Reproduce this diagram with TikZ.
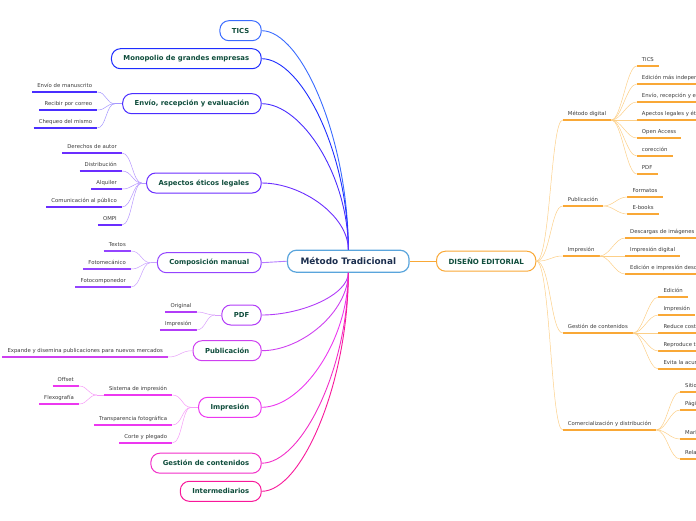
\documentclass[tikz,border=0pt]{standalone}
\usepackage{fontspec}
\setmainfont{DejaVu Sans}
\usetikzlibrary{calc}
\usepackage{xcolor}

\definecolor{ctics}{HTML}{3B6CFF}
\definecolor{cmono}{HTML}{1E2DFF}
\definecolor{cenv}{HTML}{4A2EFF}
\definecolor{casp}{HTML}{6B2EFF}
\definecolor{ccomp}{HTML}{9444FF}
\definecolor{cpdf}{HTML}{B23CF8}
\definecolor{cpub}{HTML}{CE40F0}
\definecolor{cimp}{HTML}{EC38F0}
\definecolor{cgest}{HTML}{F22EC8}
\definecolor{cint}{HTML}{F8189A}
\definecolor{cmain}{HTML}{5AA5DC}
\definecolor{orng}{HTML}{F9A836}
\definecolor{orngl}{HTML}{FCCF88}
\definecolor{topictxt}{HTML}{0F4D3C}
\definecolor{maintxt}{HTML}{1B2E4E}
\definecolor{leaftxt}{HTML}{3A3A3A}

\begin{document}
\begin{tikzpicture}[x=1pt,y=-1pt,
  topic/.style={draw,fill=white,rounded corners=9pt,line width=1pt,minimum height=20pt,inner xsep=12pt,
    font=\bfseries\fontsize{6.85}{8}\selectfont,text=topictxt},
  leaf/.style={font=\fontsize{5.35}{6}\selectfont,text=leaftxt,inner xsep=5pt,inner ysep=2.5pt,text height=4pt,text depth=1.5pt},
  uline/.style={line width=1.5pt},
  twig/.style={line width=0.5pt},
  branch/.style={line width=0.9pt}]

\useasboundingbox (0,0) rectangle (696,520);
\clip (0,0) rectangle (696,520);

\newcommand{\leafl}[5]{
  \node[leaf,anchor=south east] (#1) at (#2,#3) {#5};
  \draw[uline,#4] (#1.south west) -- (#1.south east);
}
\newcommand{\leafr}[4]{
  \node[leaf,anchor=south west] (#1) at (#2,#3) {#4};
  \draw[uline,orng,line width=1.3pt] (#1.south west) -- (#1.south east);
}

\node[topic,draw=cmain,line width=1.2pt,minimum height=22pt,inner xsep=13pt,
  font=\bfseries\fontsize{8.9}{10}\selectfont,text=maintxt] (mt) at (348.3,261.2) {Método Tradicional};
\node[topic,draw=orng,anchor=west,font=\bfseries\fontsize{7.1}{8}\selectfont] (de) at (436,261.2) {DISEÑO EDITORIAL};

\node[topic,draw=ctics,anchor=east] (tics) at (261.7,30.7) {TICS};
\node[topic,draw=cmono,anchor=east] (mono) at (261.7,58.7) {Monopolio de grandes empresas};
\node[topic,draw=cenv,anchor=east] (env) at (261.7,103.7) {Envío, recepción y evaluación};
\node[topic,draw=casp,anchor=east] (asp) at (261.7,183) {Aspectos éticos legales};
\node[topic,draw=ccomp,anchor=east] (comp) at (261.7,262.7) {Composición manual};
\node[topic,draw=cpdf,anchor=east] (pdf) at (261.7,315) {PDF};
\node[topic,draw=cpub,anchor=east] (pub) at (261.7,350.7) {Publicación};
\node[topic,draw=cimp,anchor=east] (imp) at (261.7,407.3) {Impresión};
\node[topic,draw=cgest,anchor=east] (gest) at (261.7,463.2) {Gestión de contenidos};
\node[topic,draw=cint,anchor=east] (inter) at (261.7,491.3) {Intermediarios};

\draw[branch,ctics] (tics.east) .. controls +(40,0) and +(0,-110) .. (mt.north);
\draw[branch,cmono] (mono.east) .. controls +(40,0) and +(0,-96) .. (mt.north);
\draw[branch,cenv] (env.east) .. controls +(40,0) and +(0,-74) .. (mt.north);
\draw[branch,casp] (asp.east) .. controls +(40,0) and +(0,-34) .. (mt.north);
\draw[branch,ccomp!70] (comp.east) -- (mt.west);
\draw[branch,cpdf] (pdf.east) .. controls +(40,0) and +(0,22) .. (mt.south);
\draw[branch,cpub] (pub.east) .. controls +(40,0) and +(0,39) .. (mt.south);
\draw[branch,cimp] (imp.east) .. controls +(40,0) and +(0,68) .. (mt.south);
\draw[branch,cgest] (gest.east) .. controls +(40,0) and +(0,96) .. (mt.south);
\draw[branch,cint] (inter.east) .. controls +(40,0) and +(0,110) .. (mt.south);
\draw[branch,orng] (mt.east) -- (de.west);

% Envio
\leafl{envm}{97.3}{92}{cenv}{Envío de manuscrito}
\leafl{envr}{97.3}{110}{cenv}{Recibir por correo}
\leafl{envc}{97.3}{128}{cenv}{Chequeo del mismo}
\coordinate (envj) at (115,103.7);
\draw[twig,cenv!50] (envj) -- (env.west);
\draw[twig,cenv!50] (envm.south east) .. controls +(9,0) and +(-9,0) .. (envj);
\draw[twig,cenv!50] (envr.south east) .. controls +(9,0) and +(-9,0) .. (envj);
\draw[twig,cenv!50] (envc.south east) .. controls +(9,0) and +(-9,0) .. (envj);

% Aspectos
\leafl{aspd}{122}{153}{casp}{Derechos de autor}
\leafl{aspb}{122}{171}{casp}{Distribución}
\leafl{aspa}{122}{189}{casp}{Alquiler}
\leafl{aspc}{122}{207}{casp}{Comunicación al público}
\leafl{aspo}{122}{225}{casp}{OMPI}
\coordinate (aspj) at (141.7,183);
\draw[twig,casp!50] (aspj) -- (asp.west);
\draw[twig,casp!50] (aspd.south east) .. controls +(10,0) and +(-9,0) .. (aspj);
\draw[twig,casp!50] (aspb.south east) .. controls +(10,0) and +(-9,0) .. (aspj);
\draw[twig,casp!50] (aspa.south east) .. controls +(10,0) and +(-9,0) .. (aspj);
\draw[twig,casp!50] (aspc.south east) .. controls +(10,0) and +(-9,0) .. (aspj);
\draw[twig,casp!50] (aspo.south east) .. controls +(10,0) and +(-9,0) .. (aspj);

% Composicion
\leafl{compt}{131}{251}{ccomp}{Textos}
\leafl{compf}{131}{269}{ccomp}{Fotomecánico}
\leafl{compc}{131}{287}{ccomp}{Fotocomponedor}
\coordinate (compj) at (150.5,262.7);
\draw[twig,ccomp!50] (compj) -- (comp.west);
\draw[twig,ccomp!50] (compt.south east) .. controls +(10,0) and +(-9,0) .. (compj);
\draw[twig,ccomp!50] (compf.south east) .. controls +(10,0) and +(-9,0) .. (compj);
\draw[twig,ccomp!50] (compc.south east) .. controls +(10,0) and +(-9,0) .. (compj);

% PDF
\leafl{pdfo}{196.7}{312}{cpdf}{Original}
\leafl{pdfi}{196.7}{330}{cpdf}{Impresión}
\coordinate (pdfj) at (215,315);
\draw[twig,cpdf!50] (pdfj) -- (pdf.west);
\draw[twig,cpdf!50] (pdfo.south east) .. controls +(9,0) and +(-9,0) .. (pdfj);
\draw[twig,cpdf!50] (pdfi.south east) .. controls +(9,0) and +(-9,0) .. (pdfj);

% Publicacion
\leafl{pube}{168}{357}{cpub}{Expande y disemina publicaciones para nuevos mercados}
\draw[twig,cpub!50] (pube.south east) .. controls +(12,0) and +(-12,0) .. (pub.west);

% Impresion
\leafl{imps}{172.3}{395}{cimp}{Sistema de impresión}
\leafl{impt}{172.3}{425}{cimp}{Transparencia fotográfica}
\leafl{impc}{172.3}{443}{cimp}{Corte y plegado}
\leafl{impo}{79}{386}{cimp}{Offset}
\leafl{impf}{79}{404}{cimp}{Flexografía}
\coordinate (impj) at (191,407.3);
\coordinate (impsj) at (97,395);
\draw[twig,cimp!50] (impj) -- (imp.west);
\draw[twig,cimp!50] (imps.south east) .. controls +(10,0) and +(-9,0) .. (impj);
\draw[twig,cimp!50] (impt.south east) .. controls +(10,0) and +(-9,0) .. (impj);
\draw[twig,cimp!50] (impc.south east) .. controls +(10,0) and +(-9,0) .. (impj);
\draw[twig,cimp!50] (impsj) -- (imps.south west);
\draw[twig,cimp!50] (impo.south east) .. controls +(9,0) and +(-9,0) .. (impsj);
\draw[twig,cimp!50] (impf.south east) .. controls +(9,0) and +(-9,0) .. (impsj);

% DISENO EDITORIAL
\node[leaf,anchor=south west] (md) at (562.7,120) {Método digital};
\node[leaf,anchor=south west] (pb) at (562.7,206) {Publicación};
\node[leaf,anchor=south west] (ip) at (562.7,256) {Impresión};
\node[leaf,anchor=south west] (gc) at (562.7,333) {Gestión de contenidos};
\node[leaf,anchor=south west] (cd) at (562.7,430) {Comercialización y distribución};
\draw[uline,orng,line width=1.7pt] (md.south west) -- (md.south east);
\draw[uline,orng,line width=1.7pt] (pb.south west) -- (pb.south east);
\draw[uline,orng,line width=1.7pt] (ip.south west) -- (ip.south east);
\draw[uline,orng,line width=1.7pt] (gc.south west) -- (gc.south east);
\draw[uline,orng,line width=1.7pt] (cd.south west) -- (cd.south east);
\draw[twig,orngl] (de.east) .. controls +(14,0) and +(-12,0) .. (md.south west);
\draw[twig,orngl] (de.east) .. controls +(14,0) and +(-12,0) .. (pb.south west);
\draw[twig,orngl] (de.east) .. controls +(14,0) and +(-12,0) .. (ip.south west);
\draw[twig,orngl] (de.east) .. controls +(14,0) and +(-12,0) .. (gc.south west);
\draw[twig,orngl] (de.east) .. controls +(14,0) and +(-12,0) .. (cd.south west);

\leafr{mda}{636.7}{66}{TICS}
\leafr{mdb}{636.7}{84}{Edición más independiente}
\leafr{mdc}{636.7}{102}{Envío, recepción y evaluación}
\leafr{mdd}{636.7}{120}{Apectos legales y éticos}
\leafr{mde}{636.7}{138}{Open Access}
\leafr{mdf}{636.7}{156}{corección}
\leafr{mdg}{636.7}{174}{PDF}
\draw[twig,orngl] (md.south east) .. controls +(10,0) and +(-10,0) .. (mda.south west);
\draw[twig,orngl] (md.south east) .. controls +(10,0) and +(-10,0) .. (mdb.south west);
\draw[twig,orngl] (md.south east) .. controls +(10,0) and +(-10,0) .. (mdc.south west);
\draw[twig,orngl] (md.south east) -- (mdd.south west);
\draw[twig,orngl] (md.south east) .. controls +(10,0) and +(-10,0) .. (mde.south west);
\draw[twig,orngl] (md.south east) .. controls +(10,0) and +(-10,0) .. (mdf.south west);
\draw[twig,orngl] (md.south east) .. controls +(10,0) and +(-10,0) .. (mdg.south west);

\leafr{pba}{627.3}{197}{Formatos}
\leafr{pbb}{627.3}{214}{E-books}
\draw[twig,orngl] (pb.south east) .. controls +(10,0) and +(-10,0) .. (pba.south west);
\draw[twig,orngl] (pb.south east) .. controls +(10,0) and +(-10,0) .. (pbb.south west);

\leafr{ipa}{625}{238}{Descargas de imágenes}
\leafr{ipb}{625}{256}{Impresión digital}
\leafr{ipc}{625}{274}{Edición e impresión descentralizada}
\draw[twig,orngl] (ip.south east) .. controls +(10,0) and +(-10,0) .. (ipa.south west);
\draw[twig,orngl] (ip.south east) -- (ipb.south west);
\draw[twig,orngl] (ip.south east) .. controls +(10,0) and +(-10,0) .. (ipc.south west);

\leafr{gca}{658.3}{297}{Edición}
\leafr{gcb}{658.3}{315}{Impresión}
\leafr{gcc}{658.3}{333}{Reduce costos}
\leafr{gcd}{658.3}{351}{Reproduce textos}
\leafr{gce}{658.3}{369}{Evita la acumulación}
\draw[twig,orngl] (gc.south east) .. controls +(10,0) and +(-10,0) .. (gca.south west);
\draw[twig,orngl] (gc.south east) .. controls +(10,0) and +(-10,0) .. (gcb.south west);
\draw[twig,orngl] (gc.south east) -- (gcc.south west);
\draw[twig,orngl] (gc.south east) .. controls +(10,0) and +(-10,0) .. (gcd.south west);
\draw[twig,orngl] (gc.south east) .. controls +(10,0) and +(-10,0) .. (gce.south west);

\leafr{cda}{680}{392}{Sitios web}
\leafr{cdb}{680}{410}{Páginas web}
\leafr{cdc}{680}{439}{Marketing}
\leafr{cdd}{680}{459}{Relaciones}
\draw[twig,orngl] (cd.south east) .. controls +(10,0) and +(-10,0) .. (cda.south west);
\draw[twig,orngl] (cd.south east) .. controls +(10,0) and +(-10,0) .. (cdb.south west);
\draw[twig,orngl] (cd.south east) .. controls +(10,0) and +(-10,0) .. (cdc.south west);
\draw[twig,orngl] (cd.south east) .. controls +(10,0) and +(-10,0) .. (cdd.south west);

\end{tikzpicture}
\end{document}
